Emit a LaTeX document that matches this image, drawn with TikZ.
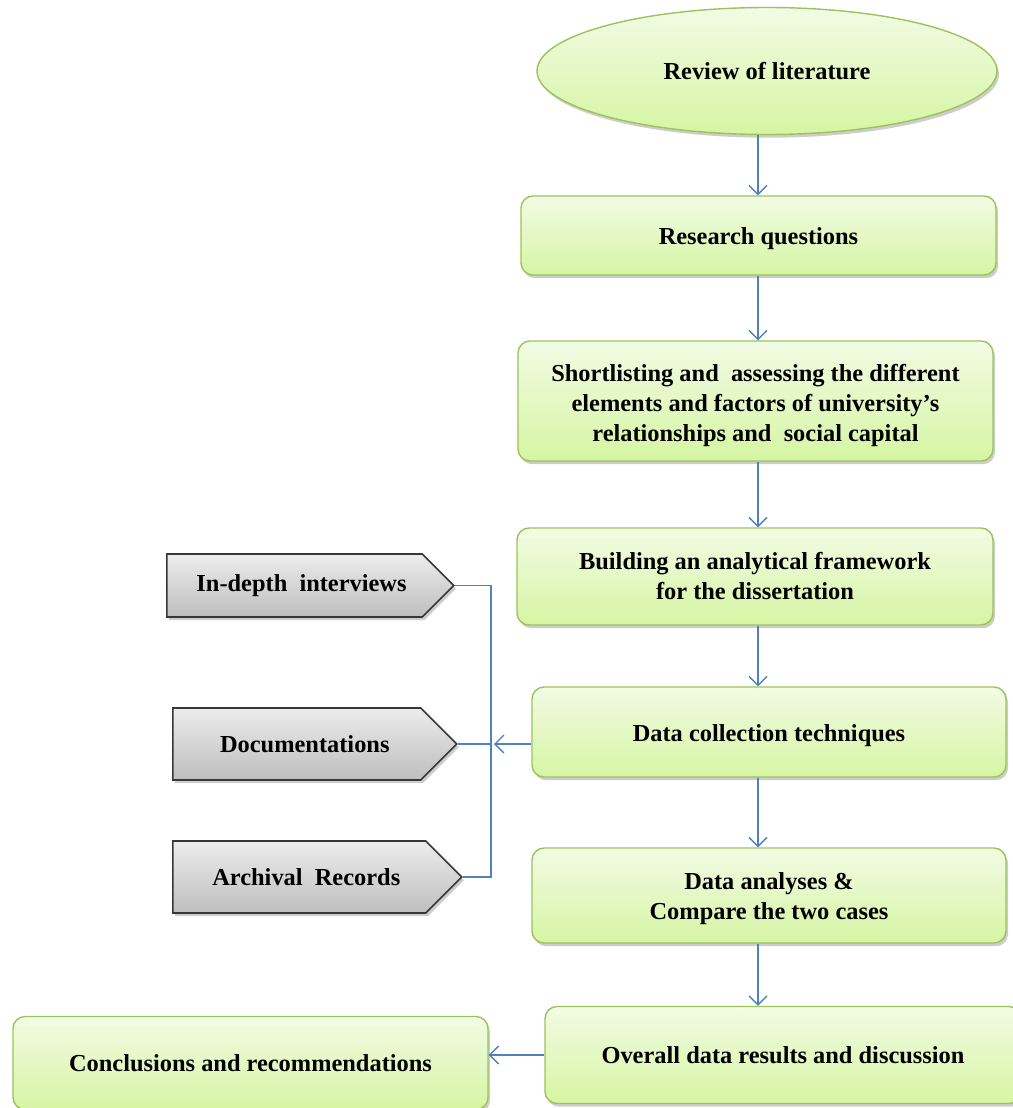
\documentclass[tikz,border=0pt]{standalone}
\usepackage{fontspec}
\setmainfont{Liberation Serif}
\usetikzlibrary{shapes.geometric,shapes.symbols,arrows.meta,shadows}

\definecolor{stepline}{RGB}{155,195,90}
\definecolor{steptop}{RGB}{242,251,228}
\definecolor{stepbot}{RGB}{214,245,163}
\definecolor{graytop}{RGB}{236,236,236}
\definecolor{graybot}{RGB}{190,190,190}
\definecolor{grayline}{RGB}{55,55,55}
\definecolor{connblue}{RGB}{79,129,189}

% invisible strut that makes the first line taller, setting the text lower
\newcommand{\firstlinestrut}[1]{\rule{0pt}{#1}}

\tikzset{
  softshadow/.style={drop shadow={opacity=0.28, shadow xshift=1pt, shadow yshift=-1.6pt, fill=black!70}},
  stepbox/.style={rectangle, rounded corners=6pt, draw=stepline, line width=0.7pt,
    top color=steptop, bottom color=stepbot, softshadow,
    align=center, inner sep=2pt, font=\fontsize{12.2}{15}\selectfont\bfseries},
  stepoval/.style={stepbox, ellipse, rounded corners=0pt},
  sourcebox/.style={signal, signal to=east, signal pointer angle=90, anchor=west,
    draw=grayline, line width=0.8pt, top color=graytop, bottom color=graybot, softshadow,
    inner sep=2pt, font=\fontsize{12.2}{15}\selectfont\bfseries},
  conn/.style={draw=connblue, line width=0.65pt},
  arr/.style={conn, -{Straight Barb[length=4.5pt, width=9pt, line width=0.65pt]}}
}

\begin{document}
\begin{tikzpicture}[x=0.5pt, y=-0.5pt]
  \useasboundingbox (0,0) rectangle (1012,1108);

  % main sequence of steps
  \node[stepoval, minimum width=230pt, minimum height=63.5pt] (lit) at (767,71) {Review of literature};
  \node[stepbox, minimum width=237.5pt, minimum height=39.5pt] (rq) at (758.5,235.5)
    {\firstlinestrut{11.3pt}Research questions};
  \node[stepbox, minimum width=237.5pt, minimum height=60pt] (short) at (755.5,401)
    {\firstlinestrut{13.3pt}Shortlisting and\ \ assessing the different\\elements and factors of university’s\\relationships and\ \ social capital};
  \node[stepbox, minimum width=238pt, minimum height=48.5pt] (build) at (755,576.5)
    {Building an analytical framework\\for the dissertation};
  \node[stepbox, minimum width=237pt, minimum height=45pt] (dct) at (769,732)
    {\firstlinestrut{12.3pt}Data collection techniques};
  \node[stepbox, minimum width=237pt, minimum height=47.5pt] (dan) at (769,895.5)
    {\firstlinestrut{11.3pt}Data analyses \&\\Compare the two cases};
  \node[stepbox, minimum width=238pt, minimum height=48.5pt] (ovr) at (783,1055)
    {Overall data results and discussion};
  \node[stepbox, minimum width=237.5pt, minimum height=46.5pt] (conc) at (250.5,1063)
    {Conclusions and recommendations};

  % data sources
  \node[sourcebox, minimum width=143.5pt, minimum height=31.5pt] (ind) at (166,585.5)
    {\hspace*{7pt}In-depth\ \ interviews};
  \node[sourcebox, minimum width=142pt, minimum height=36pt] (doc) at (172,744)
    {\hspace*{8pt}Documentations};
  \node[sourcebox, minimum width=144.5pt, minimum height=36pt] (arc) at (172,877)
    {\hspace*{7pt}Archival\ \ Records};

  % guide lines
  \coordinate (sp) at (758,0);
  \coordinate (brk) at (491,0);

  % vertical flow
  \draw[arr] (lit.south -| sp) -- (rq.north -| sp);
  \draw[arr] (rq.south -| sp) -- (short.north -| sp);
  \draw[arr] (short.south -| sp) -- (build.north -| sp);
  \draw[arr] (build.south -| sp) -- (dct.north -| sp);
  \draw[arr] (dct.south -| sp) -- (dan.north -| sp);
  \draw[arr] (dan.south -| sp) -- (ovr.north -| sp);

  % bracket joining the data sources
  \draw[conn] (ind.east) -- (ind.east -| brk) -- (arc.east -| brk) -- (arc.east);
  \draw[conn] (doc.east) -- (doc.east -| brk);
  \draw[arr] (doc.east -| dct.west) -- ([xshift=1.5pt]doc.east -| brk);

  % to conclusions
  \draw[arr] (ovr.west) -- (ovr.west -| conc.east);
\end{tikzpicture}
\end{document}
